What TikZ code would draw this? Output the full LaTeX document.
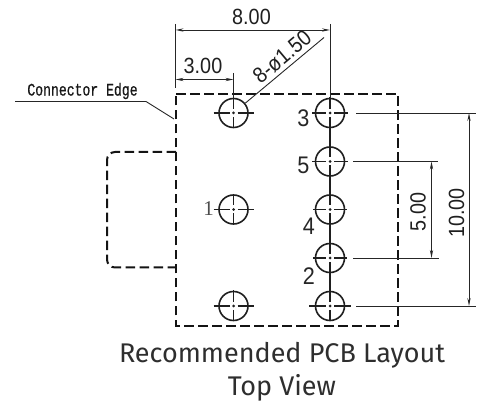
\documentclass[tikz,border=0pt]{standalone}
\usepackage{fontspec}
\setmainfont{Liberation Sans}
\newfontfamily\titlefont{Fira Sans}
\newfontfamily\dimfont[FakeStretch=0.9]{Liberation Sans}
\newfontfamily\leaderfont[FakeStretch=0.75,FakeBold=0.7]{Liberation Mono}
\usetikzlibrary{arrows.meta,calc}
\tikzset{
  dimline/.style={line width=0.9pt,black!85},
  arrowed/.style={dimline,{Stealth[length=8pt,width=3.2pt]}-{Stealth[length=8pt,width=3.2pt]}},
  outline/.style={line width=2pt,black!92,dash pattern=on 9.5pt off 4.5pt},
  holecircle/.style={circle,draw=black!88,line width=1.6pt,minimum size=29pt,inner sep=0pt},
  centreline/.style={line width=1.5pt,black!88},
  dimtext/.style={font=\dimfont\fontsize{22}{22}\selectfont,inner sep=0pt,text=black!88},
  pinlabel/.style={font=\dimfont\fontsize{24}{24}\selectfont,inner sep=0pt,text=black!85},
  titletext/.style={font=\titlefont\fontsize{27}{27}\selectfont,inner sep=0pt,text=black!82},
}
\newcommand{\hole}[4]{%
  \node[holecircle] (#1) at (#2,#3) {};
  \draw[centreline] (#2-#4,#3) -- (#2-4,#3) (#2+4,#3) -- (#2+#4,#3)
    (#2,#3-15.5) -- (#2,#3-4) (#2,#3+4) -- (#2,#3+15.5);
  \fill[black!88] (#2,#3) circle (1.5);
}
\begin{document}
\begin{tikzpicture}[x=1pt,y=-1pt]
\useasboundingbox (0,0) rectangle (482,403);
% body and connector outline
\coordinate (tl) at (176,94.5);
\coordinate (tr) at (398,94.5);
\coordinate (br) at (398,326);
\coordinate (bl) at (176,326);
\draw[outline] (tl) -- (tr) -- (br) -- (bl) -- cycle;
\coordinate (c1) at (176,152);
\coordinate (c2) at (107,152);
\coordinate (c3) at (107,267.5);
\coordinate (c4) at (176,267.5);
\draw[outline,rounded corners=8pt] (c1) -- (c2) -- (c3) -- (c4);
% holes
\hole{hA}{233.5}{113}{20}
\hole{hB}{233.5}{209.5}{20}
\hole{hC}{233.5}{306}{20}
\hole{pThree}{330}{113}{18}
\hole{pFive}{330}{161.5}{18}
\hole{pFour}{330}{209.5}{17}
\hole{pTwo}{330}{258}{17}
\hole{pSix}{330}{306}{21}
\draw[centreline] (pThree) -- (pFive);
\draw[centreline] (pFive) -- (pFour);
\draw[centreline] (pFour) -- (pTwo);
\draw[centreline] (pTwo) -- (pSix);
% 8.00 dimension
\coordinate (eLtop) at (175.5,24);
\coordinate (eLbot) at (175.5,88);
\coordinate (eRtop) at (330,24);
\draw[dimline] (eLtop) -- (eLbot);
\draw[dimline] (eRtop) -- (pThree.north);
\coordinate (d8a) at (175.5,30);
\coordinate (d8b) at (330,30);
\draw[arrowed] (d8a) -- (d8b);
\node[dimtext] (t8) at (251.5,16.5) {8.00};
% 3.00 dimension
\coordinate (e3top) at (233.5,73);
\draw[dimline] (e3top) -- (hA.north);
\coordinate (d3a) at (175.5,79.5);
\coordinate (d3b) at (233.5,79.5);
\draw[arrowed] (d3a) -- (d3b);
\node[dimtext] (t3) at (203,66) {3.00};
% hole-size leader
\coordinate (lead) at (324,37.5);
\draw[dimline] (lead) -- (hA);
\node[dimtext,rotate=40] (tdia) at (282,57) {8-ø1.50};
% connector edge leader
\coordinate (ce1) at (15,101.5);
\coordinate (ce2) at (146,101.5);
\coordinate (ce3) at (174,119);
\draw[dimline] (ce1) -- (ce2) -- (ce3);
\node[inner sep=0pt,text=black!90,font=\leaderfont\fontsize{17.5}{17.5}\selectfont] (tce) at (82.5,91) {Connector Edge};
% vertical dimensions
\coordinate (y3s) at (356,113);
\coordinate (y3e) at (476,113);
\coordinate (y5s) at (353,161.5);
\coordinate (y5e) at (438,161.5);
\coordinate (y2s) at (353,258);
\coordinate (y2e) at (438.5,258);
\coordinate (y6s) at (356,306);
\coordinate (y6e) at (476,306);
\draw[dimline] (y3s) -- (y3e);
\draw[dimline] (y5s) -- (y5e);
\draw[dimline] (y2s) -- (y2e);
\draw[dimline] (y6s) -- (y6e);
\coordinate (v5a) at (431.5,161.5);
\coordinate (v5b) at (431.5,258);
\coordinate (v10a) at (469,113);
\coordinate (v10b) at (469,306);
\draw[arrowed] (v5a) -- (v5b);
\draw[arrowed] (v10a) -- (v10b);
\node[dimtext,rotate=90] (t5) at (418,212) {5.00};
\node[dimtext,rotate=90] (t10) at (456.5,213) {10.00};
% pin labels
\node[pinlabel] (l3) at (303.5,118) {3};
\node[pinlabel] (l5) at (303.5,165) {5};
\node[pinlabel] (l4) at (309,226) {4};
\node[pinlabel] (l2) at (309,276.5) {2};
\node[inner sep=0pt,text=black!70,font=\fontsize{21}{21}\selectfont] (l1) at (208.5,209) {\fontspec{Liberation Serif}1};
% title
\node[titletext] (title1) at (282,355) {Recommended PCB Layout};
\node[titletext] (title2) at (282,388) {Top View};
\end{tikzpicture}
\end{document}
